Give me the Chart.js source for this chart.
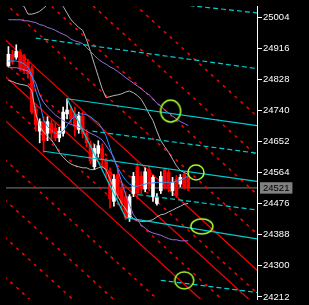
<!DOCTYPE html>
<html>
<head>
<meta charset="utf-8">
<script src="https://cdn.jsdelivr.net/npm/chart.js@4.4.1/dist/chart.umd.min.js"></script>
<style>
  html, body { margin: 0; padding: 0; background: #000; }
  #wrap { width: 309px; height: 305px; position: relative; }
</style>
</head>
<body>
<div id="wrap"><canvas id="chart"></canvas></div>
<script>
// price scale: labels every 88 points, plus the last price box
const priceTicks = [24212, 24300, 24388, 24476, 24564, 24652, 24740, 24828, 24916, 25004];
const lastPrice = 24521;

// candles, one per bar (bar index = position in array)
const opens  = [24867,24900,24892,24905,24894,24878,24859,24744,24682,24709,24676,24704,24690,24663,24676,24731,24742,24731,24687,24725,24676,24646,24581,24619,24633,24600,24567,24483,24559,24518,24496,24437,24505,24581,24554,24518,24573,24496,24477,24513,24573,24565,24513,24546,24532,24559,24551];
const highs  = [24922,24911,24927,24913,24900,24886,24867,24753,24717,24723,24723,24714,24704,24693,24750,24774,24753,24750,24736,24736,24687,24655,24644,24655,24646,24605,24578,24559,24573,24532,24510,24502,24565,24592,24567,24578,24584,24556,24505,24567,24578,24573,24551,24556,24559,24565,24559];
const lows   = [24864,24872,24886,24853,24845,24832,24731,24682,24649,24622,24655,24655,24655,24652,24668,24717,24709,24668,24676,24663,24638,24589,24573,24608,24578,24551,24464,24469,24491,24458,24431,24426,24496,24491,24505,24510,24513,24483,24472,24505,24518,24510,24499,24494,24524,24518,24513];
const closes = [24900,24878,24908,24859,24853,24845,24736,24701,24709,24655,24709,24676,24663,24682,24736,24742,24717,24695,24725,24676,24649,24597,24633,24641,24600,24573,24491,24546,24499,24477,24437,24496,24554,24505,24518,24567,24526,24551,24494,24554,24526,24518,24537,24499,24551,24524,24521];

// bollinger bands and moving averages
const bandUpper = [25058,25052,25047,25041,25036,25014,25014,25017,25022,25031,25041,25050,25052,25047,25036,25017,24998,24987,24976,24968,24941,24908,24872,24837,24802,24777,24780,24783,24785,24788,24793,24796,24791,24783,24772,24753,24731,24712,24682,24655,24638,24622,24603,24584,24570,24565,24559];
const bandLower = [24826,24823,24818,24815,24813,24810,24796,24731,24698,24679,24668,24657,24641,24622,24608,24597,24589,24584,24581,24578,24578,24573,24573,24578,24581,24573,24546,24518,24497,24477,24461,24445,24434,24428,24426,24426,24428,24431,24439,24445,24447,24453,24458,24464,24469,24475,24477];
const maBlue = [24881,24881,24881,24878,24873,24864,24840,24796,24764,24714,24695,24684,24676,24674,24682,24698,24714,24725,24731,24731,24728,24723,24714,24706,24690,24668,24635,24600,24578,24559,24543,24532,24526,24526,24529,24532,24535,24535,24537,24537,24537,24537,24537,24540,24543,24548,24556];
const maPurpleHigh = [24998,24998,24998,24998,24995,24995,24992,24990,24984,24982,24976,24973,24968,24962,24957,24952,24943,24938,24935,24930,24919,24908,24897,24886,24878,24872,24864,24859,24851,24843,24834,24826,24818,24810,24802,24793,24785,24774,24761,24753,24742,24734,24725,24717,24709,24704,24698];
const maPurpleLow = [24864,24862,24862,24859,24856,24853,24837,24818,24785,24764,24750,24739,24728,24720,24712,24706,24701,24698,24693,24690,24682,24676,24671,24665,24657,24641,24625,24608,24573,24537,24502,24472,24445,24431,24415,24407,24398,24393,24390,24387,24382,24377,24374,24374,24371,24371,24371];

// drawn objects: [bar1, price1, bar2, price2]
const redSolid = [
  [-1, 24943, 65, 24274],
  [-1, 24839, 65, 24170],
  [-1, 24714, 65, 24045]
];
const redDashed = [
  [-1, 25379, 65, 24710],
  [-1, 25267, 65, 24598],
  [-1, 25158, 65, 24489],
  [-1, 25046, 65, 24377],
  [-1, 24878, 65, 24209],
  [-1, 24769, 65, 24100],
  [-1, 24602, 65, 23933],
  [-1, 24488, 65, 23819],
  [-1, 24382, 65, 23713],
  [-1, 24270, 65, 23601]
];
const cyanSolid = [
  [15, 24774, 64, 24697],
  [9, 24625, 64, 24539],
  [30, 24437, 64, 24376],
  [15, 24774, 30, 24437]
];
const cyanDashed = [
  [30, 25058, 64, 25017],
  [7, 24946, 64, 24859],
  [21.5, 24682, 64, 24619],
  [33.25, 24502, 64, 24458],
  [39, 24259, 64, 24224]
];
// marked spots
const ringBars = [41.5, 48, 49.5, 45];
const ringPrices = [24739, 24565, 24412, 24259];

const RED = '#ff0000', CYAN = '#00ced1', GREEN = '#adff2f';

function ring(rx, ry) {
  const c = document.createElement('canvas');
  c.width = Math.ceil(rx * 2 + 4);
  c.height = Math.ceil(ry * 2 + 4);
  const g = c.getContext('2d');
  g.strokeStyle = GREEN;
  g.lineWidth = 1.5;
  g.beginPath();
  g.ellipse(c.width / 2, c.height / 2, rx, ry, 0, 0, Math.PI * 2);
  g.stroke();
  return c;
}
const ringStyles = [ring(10, 11), ring(8, 7.5), ring(11, 7.5), ring(9.5, 8.5)];

function seg(l, color, dash, order, width) {
  return {
    type: 'line',
    data: [{ x: l[0], y: l[1] }, { x: l[2], y: l[3] }],
    borderColor: color, borderWidth: width || 1, borderDash: dash,
    pointRadius: 0, order: order
  };
}
function curve(vals, color, order) {
  return {
    type: 'line',
    data: vals.map((v, i) => ({ x: i, y: v })),
    borderColor: color, borderWidth: 1, pointRadius: 0, tension: 0, order: order
  };
}

const candleColors = closes.map((c, i) => c >= opens[i] ? '#ffffff' : RED);

const datasets = [];
datasets.push({
  type: 'line',
  data: ringBars.map((b, i) => ({ x: b, y: ringPrices[i] })),
  showLine: false, pointStyle: ringStyles, pointRadius: 5, order: 0
});
cyanSolid.forEach(l => datasets.push(seg(l, CYAN, [], 1, 1.2)));
cyanDashed.forEach(l => datasets.push(seg(l, CYAN, [5, 3], 1, 1.2)));
datasets.push(curve(maBlue, '#1e90ff', 2));
datasets.push(curve(maPurpleHigh, '#9370db', 2));
datasets.push(curve(maPurpleLow, '#9370db', 2));
datasets.push(curve(bandUpper, '#b4b4b4', 3));
datasets.push(curve(bandLower, '#b4b4b4', 3));
datasets.push({
  type: 'bar',
  data: opens.map((o, i) => ({ x: i, y: [o, closes[i]] })),
  backgroundColor: candleColors, borderWidth: 0,
  barThickness: 3, grouped: false, order: 4
});
datasets.push({
  type: 'bar',
  data: lows.map((l, i) => ({ x: i, y: [l, highs[i]] })),
  backgroundColor: candleColors, borderWidth: 0,
  barThickness: 1, grouped: false, order: 5
});
redSolid.forEach(l => datasets.push(seg(l, RED, [], 6, 1.2)));
redDashed.forEach(l => datasets.push(seg(l, RED, [3, 5], 6, 1.5)));
datasets.push(seg([-1, lastPrice, 65, lastPrice], '#808080', [], 7));

new Chart(document.getElementById('chart'), {
  type: 'bar',
  data: { datasets: datasets },
  options: {
    responsive: true,
    maintainAspectRatio: false,
    animation: false,
    devicePixelRatio: 1,
    layout: { padding: 0 },
    plugins: { legend: { display: false }, tooltip: { enabled: false } },
    scales: {
      x: {
        type: 'linear', display: false, offset: false,
        min: -0.625, max: 63.625,
        grid: { offset: false }
      },
      y: {
        position: 'right',
        min: 24206, max: 25037,
        afterBuildTicks: s => {
          s.ticks = priceTicks.concat([lastPrice]).sort((a, b) => a - b).map(v => ({ value: v }));
        },
        afterFit: s => { s.width = 52; s.paddingTop = 0; s.paddingBottom = 0; },
        border: { display: true, color: '#ffffff', width: 1 },
        grid: {
          drawOnChartArea: false, drawTicks: true, tickLength: 5, tickWidth: 1,
          color: '#ffffff',
          tickColor: c => (c.tick && c.tick.value === lastPrice) ? 'rgba(0,0,0,0)' : '#ffffff'
        },
        ticks: {
          autoSkip: false,
          padding: 1,
          font: { family: 'Liberation Sans', size: 9.5 },
          color: c => (c.tick && c.tick.value === lastPrice) ? '#000000' : '#ffffff',
          callback: v => String(v),
          showLabelBackdrop: c => !!(c.tick && c.tick.value === lastPrice),
          backdropColor: '#808080',
          backdropPadding: { left: 3, right: 3, top: 0, bottom: 0 }
        }
      }
    }
  }
});
</script>
</body>
</html>
